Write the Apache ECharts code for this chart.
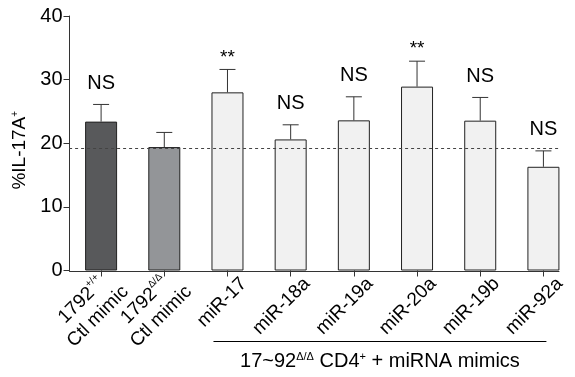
<!DOCTYPE html>
<html>
<head>
<meta charset="utf-8">
<script src="https://cdn.jsdelivr.net/npm/echarts@6/dist/echarts.min.js"></script>
<style>
  html, body { margin: 0; padding: 0; background: #fff; }
  #chart { width: 575px; height: 377px; }
</style>
</head>
<body>
<div id="chart"></div>
<script>
// categories: [main text, superscript, second line]
const categories = [
    ['1792', '+/+', 'Ctl mimic'],
    ['1792', 'Δ/Δ', 'Ctl mimic'],
    ['miR-17', '', ''],
    ['miR-18a', '', ''],
    ['miR-19a', '', ''],
    ['miR-20a', '', ''],
    ['miR-19b', '', ''],
    ['miR-92a', '', '']
]
const means = [23.4, 19.4, 28.0, 20.6, 23.6, 28.9, 23.55, 16.3]
const errors = [2.7, 2.3, 3.6, 2.3, 3.7, 4.0, 3.65, 2.5]
const signif = ['NS', '', '**', 'NS', 'NS', '**', 'NS', 'NS']
const barColors = ['#58595b', '#939598', '#f1f1f1', '#f1f1f1', '#f1f1f1', '#f1f1f1', '#f1f1f1', '#f1f1f1']
const refLine = 19.3
const yTicks = [0, 10, 20, 30, 40]

const font = 'Liberation Sans, Arial, sans-serif'
const ink = '#333'

const chart = echarts.init(document.getElementById('chart'))

function labelFormatter(value, idx) {
    const c = categories[idx]
    if (c[1]) {
        return '{n|' + c[0] + '}{s|' + c[1] + '}\n{n|' + c[2] + '}'
    }
    return '{n|' + c[0] + '}'
}

chart.setOption({
    animation: false,
    grid: {
        left: 69.5,
        top: 16,
        bottom: 106.5,
        right: -6.5
    },
    xAxis: {
        type: 'category',
        data: categories.map(c => c[0] + c[1]),
        axisLine: { show: false },
        axisTick: {
            show: true,
            alignWithLabel: true,
            length: 6,
            lineStyle: { color: ink, width: 1 }
        },
        axisLabel: {
            interval: 0,
            rotate: 45,
            margin: -6,
            align: 'right',
            verticalAlign: 'middle',
            padding: [46, 0, 0, 0],
            color: '#000',
            fontFamily: font,
            formatter: labelFormatter,
            rich: {
                n: { fontSize: 19, fontFamily: font, color: '#000', align: 'center', lineHeight: 23 },
                s: { fontSize: 10, fontFamily: font, color: '#000', align: 'center', verticalAlign: 'top', lineHeight: 23 }
            }
        }
    },
    yAxis: {
        type: 'value',
        min: yTicks[0],
        max: yTicks[yTicks.length - 1],
        interval: 10,
        name: '{n|%IL-17A}{s|+}',
        nameLocation: 'middle',
        nameGap: 38,
        nameTextStyle: {
            padding: [0, 14, 0, 0],
            rich: {
                n: { fontSize: 19, fontFamily: font, color: '#000' },
                s: { fontSize: 10, fontFamily: font, color: '#000', verticalAlign: 'top' }
            }
        },
        splitLine: { show: false },
        axisLine: { show: true, lineStyle: { color: ink, width: 1 } },
        axisTick: { show: true, length: 6, lineStyle: { color: ink, width: 1 } },
        axisLabel: { margin: 7, fontSize: 20, fontFamily: font, color: '#000' }
    },
    series: [
        {
            type: 'bar',
            barWidth: 32,
            data: means.map((v, i) => ({
                value: v,
                itemStyle: { color: barColors[i], borderColor: '#222', borderWidth: 1 }
            })),
            z: 2
        },
        {
            type: 'custom',
            data: means.map((v, i) => [i, v, v + errors[i], signif[i]]),
            z: 3,
            renderItem(params, api) {
                const x = api.coord([api.value(0), 0])[0]
                const yLow = api.coord([api.value(0), api.value(1)])[1]
                const yHigh = api.coord([api.value(0), api.value(2)])[1]
                const label = signif[params.dataIndex]
                const children = [
                    { type: 'line', shape: { x1: x, y1: yLow, x2: x, y2: yHigh }, style: { stroke: ink, lineWidth: 1 } },
                    { type: 'line', shape: { x1: x - 8, y1: yHigh, x2: x + 8, y2: yHigh }, style: { stroke: ink, lineWidth: 1 } }
                ]
                if (label) {
                    const star = label === '**'
                    children.push({
                        type: 'text',
                        style: {
                            text: label,
                            x: x,
                            y: yHigh - (star ? 12 : 21),
                            align: 'center',
                            verticalAlign: 'middle',
                            fontSize: star ? 19 : 20,
                            fontFamily: font,
                            fill: '#000'
                        }
                    })
                }
                return { type: 'group', children: children }
            }
        }
    ]
})

// axis line, reference line and bracket drawn from the chart's own scales
const y0 = chart.convertToPixel({ yAxisIndex: 0 }, 0)
const yRef = chart.convertToPixel({ yAxisIndex: 0 }, refLine)
const xFirst = chart.convertToPixel({ xAxisIndex: 0 }, 0)
const xLast = chart.convertToPixel({ xAxisIndex: 0 }, categories.length - 1)
const x3 = chart.convertToPixel({ xAxisIndex: 0 }, 2)
const halfBar = 16
const axisLeft = xFirst - 32
const axisRight = xLast + halfBar

chart.setOption({
    graphic: [
        {
            type: 'line',
            shape: { x1: axisLeft, y1: Math.round(y0) + 0.5, x2: axisRight, y2: Math.round(y0) + 0.5 },
            style: { stroke: ink, lineWidth: 1 },
            z: 10
        },
        {
            type: 'line',
            shape: { x1: axisLeft, y1: Math.round(yRef) + 0.5, x2: axisRight, y2: Math.round(yRef) + 0.5 },
            style: { stroke: '#444', lineWidth: 1, lineDash: [3, 3] },
            z: 10
        },
        {
            type: 'line',
            shape: { x1: x3 - halfBar + 2, y1: 341.5, x2: xLast + 3, y2: 341.5 },
            style: { stroke: '#000', lineWidth: 1 }
        },
        {
            type: 'text',
            x: (x3 - halfBar + 2 + xLast + 3) / 2,
            y: 361,
            style: {
                text: '{n|17~92}{s|Δ/Δ}{n| CD4}{s|+}{n| + miRNA mimics}',
                align: 'center',
                verticalAlign: 'middle',
                rich: {
                    n: { fontSize: 20, fontFamily: font, fill: '#000' },
                    s: { fontSize: 11, fontFamily: font, fill: '#000', verticalAlign: 'top' }
                }
            }
        }
    ]
})
</script>
</body>
</html>
